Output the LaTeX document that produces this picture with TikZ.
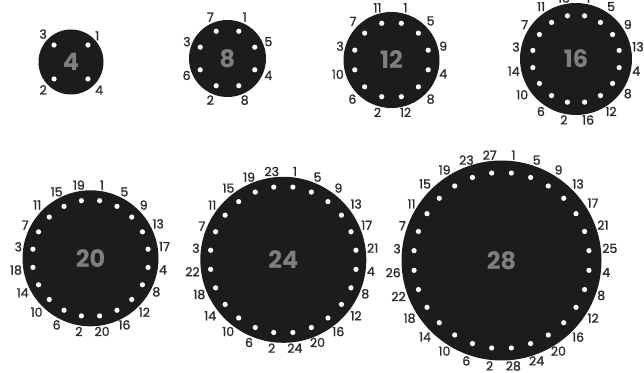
\documentclass[tikz,border=0pt]{standalone}
\usepackage{fontspec}
\usetikzlibrary{calc}
\newfontfamily\pinfont{Poppins}[FakeBold=1.2]
\newfontfamily\countfont{Poppins}
\definecolor{discfill}{HTML}{1C1C1C}
\definecolor{pintext}{HTML}{2B2B2B}
\definecolor{midtext}{HTML}{7F7F7F}
\tikzset{
  disc/.style={circle, fill=discfill, inner sep=0pt, minimum size=#1},
  hole/.style={circle, fill=white, inner sep=0pt, minimum size=5.2pt},
  pinlabel/.style={font=\pinfont\fontsize{12.5}{13}\selectfont, text=pintext, inner sep=0.6pt},
  countlabel/.style={font=\countfont\bfseries\fontsize{24}{25}\selectfont, text=midtext, inner sep=0pt},
}
\begin{document}
\begin{tikzpicture}[x=1pt,y=1pt]
\useasboundingbox (0,0) rectangle (644,372);
\foreach \n/\cx/\cy/\R/\rd in {4/71/310/32.5/24, 8/227.5/313.5/38.5/29.5, 12/391.5/312/48/38, 16/576/313/56/44, 20/90.5/113.7/68/58.3, 24/283.3/112.2/83/73.3, 28/501.5/111.5/100/88}{
  \pgfmathsetmacro\dia{2*\R}
  \node[disc=\dia pt] (c\n) at (\cx,\cy) {};
  \node[countlabel] (t\n) at (c\n.center) {\n};
  \foreach \k in {1,...,\n}{
    \pgfmathtruncatemacro\g{(\k-1)/4}
    \pgfmathtruncatemacro\m{mod(\k-1,4)}
    \pgfmathsetmacro\off{{0,180,90,270}[\m]}
    \pgfmathsetmacro\ang{90-180/\n-\g*360/\n+\off}
    \pgfmathsetmacro\anc{mod(\ang+180+720,360)}
    \pgfmathsetmacro\rl{\R+0.6}
    \node[hole] (d\n-\k) at ($(c\n.center)+(\ang:\rd)$) {};
    \node[pinlabel, anchor=\anc] (l\n-\k) at ($(c\n.center)+(\ang:\rl)$) {\k};
  }
}
\end{tikzpicture}
\end{document}
